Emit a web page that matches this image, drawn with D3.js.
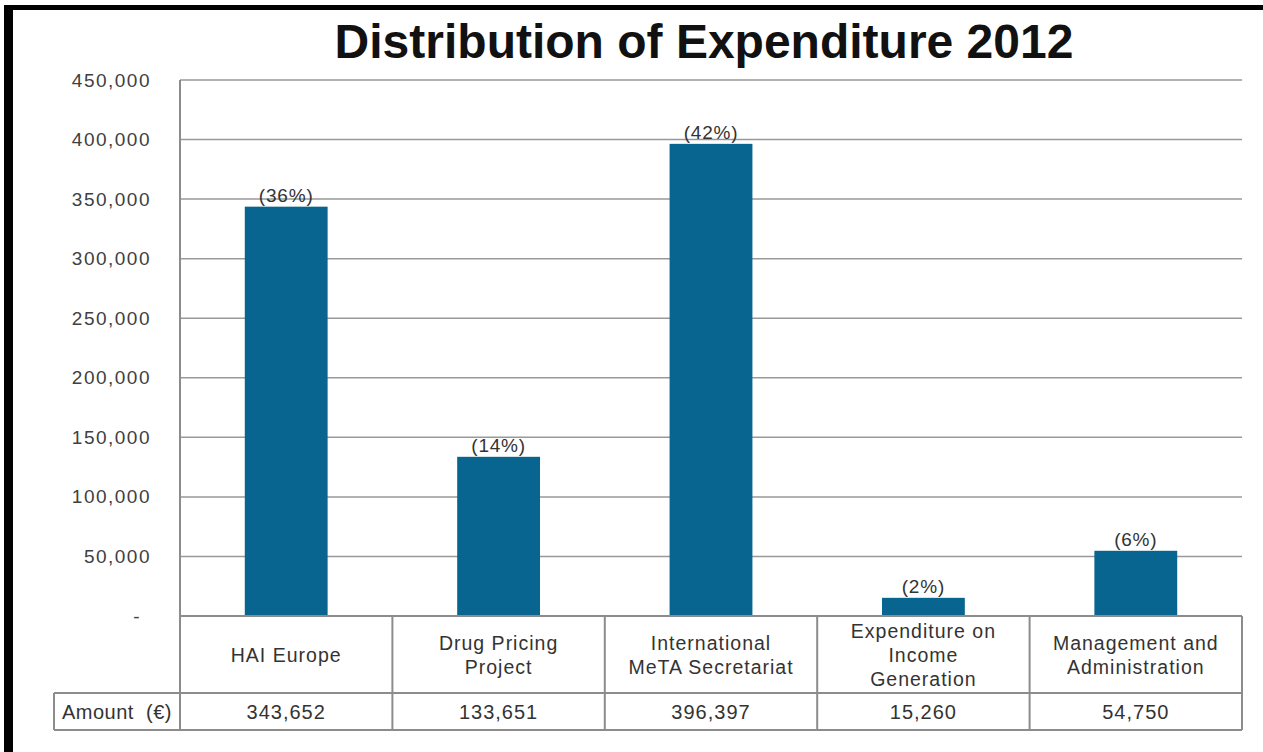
<!DOCTYPE html>
<html><head><meta charset="utf-8">
<script src="https://cdn.jsdelivr.net/npm/d3@7"></script>
<style>
html,body{margin:0;padding:0;background:#fff;}
svg{display:block;}
text{font-family:"Liberation Sans",Arial,sans-serif;}
</style></head>
<body>
<svg id="chart" width="1263" height="752"></svg>
<script>
const categories = [["HAI Europe"],["Drug Pricing","Project"],["International","MeTA Secretariat"],["Expenditure on","Income","Generation"],["Management and","Administration"]];
const amounts = [343652, 133651, 396397, 15260, 54750];
const percents = ["(36%)","(14%)","(42%)","(2%)","(6%)"];
const yTicks = [0,50000,100000,150000,200000,250000,300000,350000,400000,450000];
const title = "Distribution of Expenditure 2012";
const rowLabel = "Amount  (€)";

(function(){
const svg = d3.select("#chart");
const pLeft = 180, pRight = 1242, pTop = 80, pBottom = 616;
const headerBottom = 693, tableBottom = 730, tableLeft = 54;

// frame
svg.append("rect").attr("x",0).attr("y",0).attr("width",1263).attr("height",752).attr("fill","#fff");
svg.append("rect").attr("x",4).attr("y",5).attr("width",1259).attr("height",5).attr("fill","#000");
svg.append("rect").attr("x",4).attr("y",5).attr("width",9).attr("height",747).attr("fill","#000");

const idx = d3.range(categories.length);
const x = d3.scaleBand().domain(idx).range([pLeft,pRight]).paddingInner(0.61).paddingOuter(0.305);
const xc = d3.scaleBand().domain(idx).range([pLeft,pRight]);
const y = d3.scaleLinear().domain([0,450000]).range([pBottom,pTop]);

// title
svg.append("text").attr("x",704).attr("y",58).attr("text-anchor","middle")
  .attr("font-size",48).attr("font-weight","bold").attr("fill","#111").text(title);

// gridlines
svg.append("g").selectAll("line").data(yTicks.filter(d=>d>0)).join("line")
  .attr("x1",pLeft).attr("x2",pRight).attr("y1",d=>y(d)).attr("y2",d=>y(d))
  .attr("stroke","#999").attr("stroke-width",1.5);

// y axis labels
const yAxis = d3.axisLeft(y).tickValues(yTicks).tickSize(0).tickPadding(0)
  .tickFormat(d=> d===0 ? "-" : d3.format(",")(d));
const ga = svg.append("g").attr("transform",`translate(151,0)`).call(yAxis);
ga.select(".domain").remove();
ga.selectAll("text").attr("font-size",19).attr("fill","#404040").attr("letter-spacing","1.5px")
  .attr("font-family","'Liberation Sans',Arial,sans-serif").attr("dx", d=> d===0 ? -10 : 0);

// bars
svg.append("g").selectAll("rect").data(amounts).join("rect")
  .attr("x",(d,i)=>x(i)).attr("width",x.bandwidth())
  .attr("y",d=>y(d)).attr("height",d=>pBottom-y(d)).attr("fill","#07658f");

// percent labels
svg.append("g").selectAll("text").data(percents).join("text")
  .attr("x",(d,i)=>x(i)+x.bandwidth()/2).attr("y",(d,i)=>y(amounts[i])-5)
  .attr("text-anchor","middle").attr("font-size",19).attr("letter-spacing","0.8px")
  .attr("fill","#333").text(d=>d);

// table lines
const tl = svg.append("g").attr("stroke","#8c8c8c").attr("stroke-width",2).attr("fill","none");
tl.append("line").attr("x1",pLeft).attr("x2",pLeft).attr("y1",pTop).attr("y2",tableBottom);
tl.append("line").attr("x1",pLeft).attr("x2",pRight).attr("y1",pBottom).attr("y2",pBottom);
tl.append("line").attr("x1",tableLeft).attr("x2",pRight).attr("y1",headerBottom).attr("y2",headerBottom);
tl.append("line").attr("x1",tableLeft).attr("x2",pRight).attr("y1",tableBottom).attr("y2",tableBottom);
tl.append("line").attr("x1",tableLeft).attr("x2",tableLeft).attr("y1",headerBottom).attr("y2",tableBottom);
tl.selectAll(".v").data(idx).join("line").attr("class","v")
  .attr("x1",i=>xc(i)+xc.bandwidth()).attr("x2",i=>xc(i)+xc.bandwidth())
  .attr("y1",pBottom).attr("y2",tableBottom);

// category labels
const lh = 24, headMid = (pBottom+headerBottom)/2;
const cl = svg.append("g").selectAll("text").data(categories).join("text")
  .attr("text-anchor","middle").attr("font-size",19.5).attr("fill","#333").attr("letter-spacing","1px");
cl.each(function(lines,i){
  const t = d3.select(this);
  const cx = xc(i)+xc.bandwidth()/2;
  const y0 = headMid - (lines.length-1)*lh/2 + 7;
  lines.forEach((s,k)=>t.append("tspan").attr("x",cx).attr("y",y0+k*lh).text(s));
});

// amounts row
svg.append("text").attr("x",(tableLeft+pLeft)/2).attr("y",(headerBottom+tableBottom)/2+7)
  .attr("text-anchor","middle").attr("font-size",20).attr("letter-spacing","0.5px")
  .style("white-space","pre").attr("fill","#333").text(rowLabel);
svg.append("g").selectAll("text").data(amounts).join("text")
  .attr("x",(d,i)=>xc(i)+xc.bandwidth()/2).attr("y",(headerBottom+tableBottom)/2+7)
  .attr("text-anchor","middle").attr("font-size",20).attr("fill","#333").attr("letter-spacing","1px")
  .text(d=>d3.format(",")(d));
})();
</script>
</body></html>
